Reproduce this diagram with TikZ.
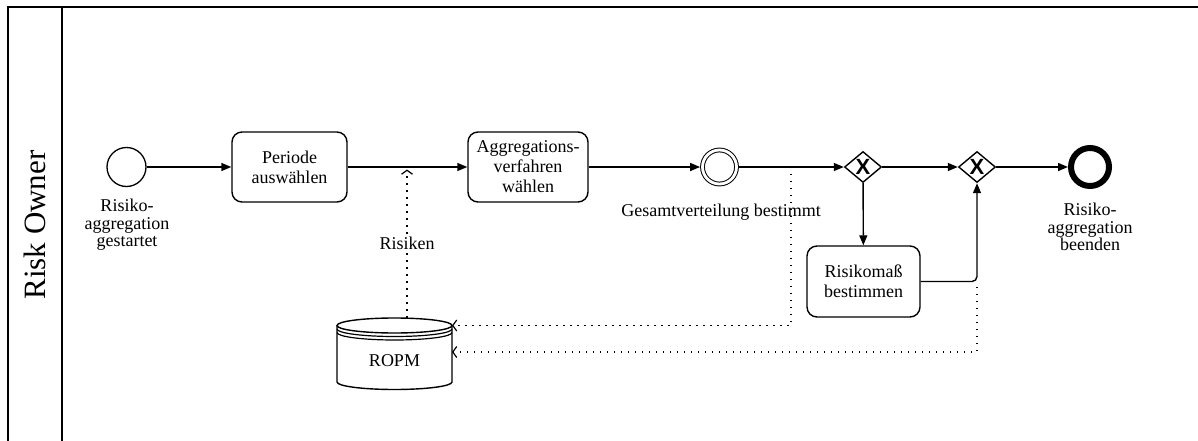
\documentclass[tikz,border=0pt]{standalone}
\usepackage{fontspec}
\setmainfont{Liberation Serif}
\newfontfamily\gwfont{Liberation Sans}
\usetikzlibrary{arrows.meta,shapes.geometric}
\begin{document}
\begin{tikzpicture}[x=1pt,y=-1pt,
  flow/.style={line width=1.4pt, -{Triangle[length=10pt,width=8pt]}},
  assoc/.style={line width=1.3pt, dash pattern=on 1.3pt off 5.7pt,
    -{Straight Barb[length=4pt,width=11pt,line width=1.2pt]}},
  task/.style={draw, line width=1.4pt, rounded corners=10pt, align=center,
    font=\fontsize{18}{20}\selectfont, inner sep=0pt},
  evlabel/.style={align=center, font=\fontsize{18}{17.5}\selectfont},
  gateway/.style={draw, diamond, line width=1.4pt, minimum width=37pt,
    minimum height=31pt, inner sep=0pt,
    label={[font=\gwfont\bfseries\fontsize{22}{22}\selectfont]center:X}},
  frame/.style={line width=1.5pt}
]
\useasboundingbox (0,0) rectangle (1198,441);

% pool and lane
\draw[frame] (8,441) -- (8,7) -- (1198,7);
\draw[frame] (62,7) -- (62,441);
\node[rotate=90, font=\fontsize{31}{31}\selectfont] (lane) at (35,225) {Risk Owner};

% events
\node[draw, circle, line width=1.3pt, minimum size=39pt, inner sep=0pt] (start) at (126.5,167) {};
\node[draw, circle, double, double distance=2.8pt, line width=1pt, minimum size=34pt,
      inner sep=0pt, outer sep=2.4pt] (mid) at (719.5,167) {};
\node[draw, circle, line width=6pt, minimum size=38pt, inner sep=0pt] (end) at (1090,167) {};

\node[evlabel] (startlbl) at (127,225) {Risiko-\\aggregation\\gestartet};
\node[evlabel] (endlbl) at (1090,227) {Risiko-\\aggregation\\beenden};

% tasks
\node[task, minimum width=115pt, minimum height=70pt] (t1) at (289.5,167) {Periode\\auswählen};
\node[task, minimum width=120pt, minimum height=70pt] (t2) at (528,167) {Aggregations-\\verfahren\\wählen};
\node[task, minimum width=113pt, minimum height=71pt] (t3) at (863.5,281.5) {Risikomaß\\bestimmen};

% gateways
\node[gateway] (g1) at (863,167) {};
\node[gateway] (g2) at (977,167) {};

% data store
\draw[line width=1.4pt] (337,325.5) -- (337,382)
  arc[start angle=180, end angle=360, x radius=57.5pt, y radius=7.5pt] -- (452,325.5);
\draw[line width=1.4pt] (394.5,325.5) ellipse[x radius=57.5pt, y radius=7.5pt];
\draw[line width=1.2pt] (337,329) arc[start angle=180, end angle=360, x radius=57.5pt, y radius=7.5pt];
\draw[line width=1.2pt] (337,332.5) arc[start angle=180, end angle=360, x radius=57.5pt, y radius=7.5pt];
\node[font=\fontsize{18}{18}\selectfont] (ropm) at (394.5,361) {ROPM};

% sequence flows
\draw[flow] (start) -- (t1);
\draw[flow] (t1) -- (t2);
\draw[flow] (t2) -- (mid);
\draw[flow] (mid) -- (g1);
\draw[flow] (g1) -- (g2);
\draw[flow] (g2) -- (end);
\draw[flow] (g1) -- (t3);
\draw[flow, rounded corners=5pt] (t3) -| (g2);

% data associations
\coordinate (rsrc) at (407,317.5);
\coordinate (rdst) at (407,169.5);
\coordinate (a1s) at (791,174);
\coordinate (a1e) at (452,325.5);
\coordinate (a2s) at (977,287);
\coordinate (a2e) at (452,352);
\draw[assoc] (rsrc) -- (rdst);
\node[fill=white, inner sep=2pt, font=\fontsize{18}{18}\selectfont] (risiken) at (407,243) {Risiken};
\draw[assoc] (a1s) |- (a1e);
\draw[assoc] (a2s) |- (a2e);

\node[evlabel] (midlbl) at (721,212) {Gesamtverteilung bestimmt};
\end{tikzpicture}
\end{document}
